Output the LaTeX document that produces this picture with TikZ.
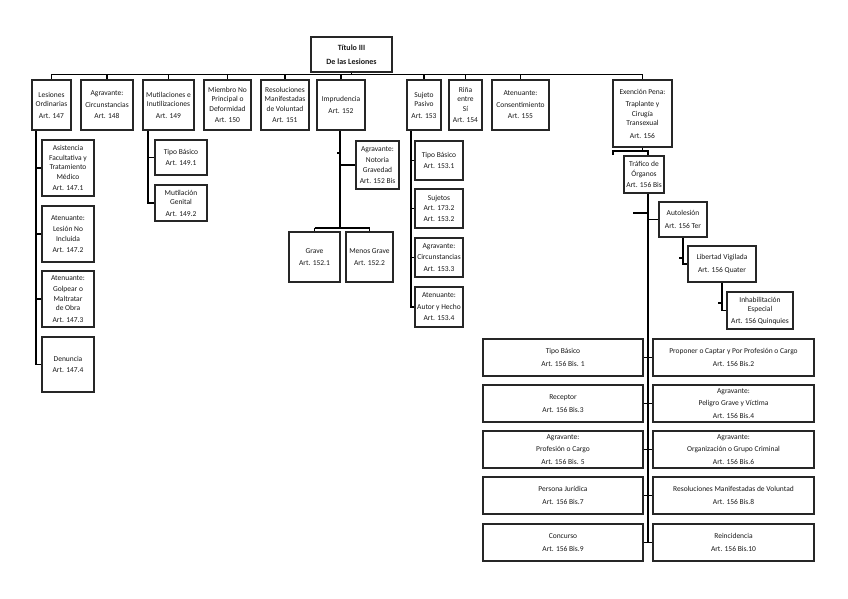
\documentclass[tikz,border=0pt]{standalone}
\usepackage{fontspec}
\setmainfont{Carlito}
\begin{document}
\begin{tikzpicture}[x=1pt,y=-1pt,
  box/.style={draw=black!85, line width=1.3pt, fill=white, inner sep=0pt, align=center,
    font=\fontsize{7.5}{9.5}\selectfont, text=black!90},
  wh/.style 2 args={minimum width=#1pt, minimum height=#2pt},
  wide/.style={font=\fontsize{7.5}{12.5}\selectfont},
  conn/.style={draw=black, line width=1.3pt}]
\useasboundingbox[fill=white] (0,0) rectangle (848,599);
\coordinate (bar) at (0,74.5);
\coordinate (trunk) at (648,0);
% title
\node[box,wh={81}{35},font=\fontsize{8}{14}\selectfont\bfseries] (t) at (351.5,54.5) {Título III\\De las Lesiones};
% top row
\node[box,wh={39}{50}] (L147) at (51.5,105) {Lesiones\\Ordinarias\\[2pt]Art. 147};
\node[box,wh={52}{50}] (A148) at (107,105) {Agravante:\\[2pt]Circunstancias\\[2pt]Art. 148};
\node[box,wh={51}{50}] (M149) at (168.5,105) {Mutilaciones e\\Inutilizaciones\\[2pt]Art. 149};
\node[box,wh={47}{50}] (M150) at (227.5,105) {Miembro No\\Principal o\\Deformidad\\[2pt]Art. 150};
\node[box,wh={48}{50}] (R151) at (285,105) {Resoluciones\\Manifestadas\\de Voluntad\\[2pt]Art. 151};
\node[box,wh={48}{50}] (I152) at (341,105) {Imprudencia\\[2pt]Art. 152};
\node[box,wh={34}{50}] (S153) at (424,105) {Sujeto\\Pasivo\\[2pt]Art. 153};
\node[box,wh={33}{50}] (R154) at (465.5,105) {Riña\\entre\\Sí\\[2pt]Art. 154};
\node[box,wh={57}{50}] (A155) at (520.5,105) {Atenuante:\\[2pt]Consentimiento\\[2pt]Art. 155};
\node[box,wh={59}{67}] (E156) at (642.5,113.5) {Exención Pena:\\[3pt]Traplante y\\Cirugía\\Transexual\\[3pt]Art. 156};
% Lesiones children
\node[box,wh={52}{56}] (c1) at (68,168) {Asistencia\\Facultativa y\\Tratamiento\\Médico\\[2pt]Art. 147.1};
\node[box,wh={52}{56}] (c2) at (68,234) {Atenuante:\\[2pt]Lesión No\\Incluida\\[2pt]Art. 147.2};
\node[box,wh={52}{56}] (c3) at (68,299) {Atenuante:\\[2pt]Golpear o\\Maltratar\\de Obra\\[2pt]Art. 147.3};
\node[box,wh={52}{55}] (c4) at (68,364.5) {Denuncia\\[2pt]Art. 147.4};
% Mutilaciones children
\node[box,wh={52}{35}] (m1) at (181,157.5) {Tipo Básico\\[2pt]Art. 149.1};
\node[box,wh={52}{36}] (m2) at (181,203) {Mutilación\\Genital\\[2pt]Art. 149.2};
% Imprudencia children
\node[box,wh={43}{48}] (ia) at (377.5,165) {Agravante:\\[2pt]Notoria\\Gravedad\\[2pt]Art. 152 Bis};
\node[box,wh={51}{50}] (ig) at (314.5,257) {Grave\\[2pt]Art. 152.1};
\node[box,wh={47}{50}] (im) at (369.5,257) {Menos Grave\\[2pt]Art. 152.2};
% Sujeto children
\node[box,wh={48}{39}] (s1) at (439,160.5) {Tipo Básico\\[2pt]Art. 153.1};
\node[box,wh={48}{39}] (s2) at (439,208.5) {Sujetos\\Art. 173.2\\[2pt]Art. 153.2};
\node[box,wh={48}{39}] (s3) at (439,257.5) {Agravante:\\[2pt]Circunstancias\\[2pt]Art. 153.3};
\node[box,wh={48}{40}] (s4) at (439,307) {Atenuante:\\[2pt]Autor y Hecho\\[2pt]Art. 153.4};
% Trafico
\node[box,wh={40}{37}] (T156) at (644,174.5) {Tráfico de\\Órganos\\[2pt]Art. 156 Bis};
\node[box,wh={48}{35}] (AU) at (683,219.5) {Autolesión\\[3pt]Art. 156 Ter};
\node[box,wh={68}{36}] (LV) at (722,264) {Libertad Vigilada\\[3pt]Art. 156 Quater};
\node[box,wh={66}{37}] (IE) at (760,310.5) {Inhabilitación\\Especial\\[2pt]Art. 156 Quinquies};
% bottom grid
\node[box,wide,wh={160}{37}] (b1) at (563,357.5) {Tipo Básico\\Art. 156 Bis. 1};
\node[box,wide,wh={161}{37}] (b2) at (733.5,357.5) {Proponer o Captar y Por Profesión o Cargo\\Art. 156 Bis.2};
\node[box,wide,wh={160}{37}] (b3) at (563,403.5) {Receptor\\Art. 156 Bis.3};
\node[box,wide,wh={161}{37}] (b4) at (733.5,403.5) {Agravante:\\Peligro Grave y Víctima\\Art. 156 Bis.4};
\node[box,wide,wh={160}{37}] (b5) at (563,449.5) {Agravante:\\Profesión o Cargo\\Art. 156 Bis. 5};
\node[box,wide,wh={161}{37}] (b6) at (733.5,449.5) {Agravante:\\Organización o Grupo Criminal\\Art. 156 Bis.6};
\node[box,wide,wh={160}{37}] (b7) at (563,495.5) {Persona Jurídica\\Art. 156 Bis.7};
\node[box,wide,wh={161}{37}] (b8) at (733.5,495.5) {Resoluciones Manifestadas de Voluntad\\Art. 156 Bis.8};
\node[box,wide,wh={160}{37}] (b9) at (563,542.5) {Concurso\\Art. 156 Bis.9};
\node[box,wide,wh={161}{37}] (b10) at (733.5,542.5) {Reincidencia\\Art. 156 Bis.10};
% connectors: top level
\draw[conn] (t.south) -- (t.south |- bar);
\draw[conn] (L147.north |- bar) -- (E156.north |- bar);
\foreach \n in {L147,A148,M149,M150,R151,I152,S153,R154,A155,E156}
  \draw[conn] (\n.north |- bar) -- (\n.north);
% Lesiones
\draw[conn] (L147.south -| 36,0) -- (c4.west -| 36,0) -- (c4.west);
\foreach \n in {c1,c2,c3}
  \draw[conn] (\n.west -| 36,0) -- (\n.west);
% Mutilaciones
\draw[conn] (M149.south -| 148,0) -- (m2.west -| 148,0) -- (m2.west);
\draw[conn] (m1.west -| 148,0) -- (m1.west);
% Imprudencia
\draw[conn] (I152.south -| 340,0) -- (340,228);
\draw[conn] (ia.west -| 340,0) -- (ia.west);
\draw[conn] (337,153) -- (340,153);
\draw[conn] (ig.north |- 0,228) -- (im.north |- 0,228);
\draw[conn] (ig.north |- 0,228) -- (ig.north);
\draw[conn] (im.north |- 0,228) -- (im.north);
% Sujeto
\draw[conn] (S153.south -| 411,0) -- (s4.west -| 411,0) -- (s4.west);
\foreach \n in {s1,s2,s3}
  \draw[conn] (\n.west -| 411,0) -- (\n.west);
% Exencion -> Trafico
\draw[conn] (E156.south) -- (E156.south |- 0,151);
\draw[conn] (613,155) -- (613,151) -- (trunk |- 0,151) -- (T156.north -| trunk);
% trunk
\draw[conn] (T156.south -| trunk) -- (b9.east -| trunk);
\draw[conn] (633,213) -- (trunk |- 0,213);
\draw[conn] (AU.west -| trunk) -- (AU.west);
\draw[conn] (AU.south) -- (AU.south |- LV.west) -- (LV.west);
\draw[conn] (679,258) -- (AU.south |- 0,258);
\draw[conn] (LV.south) -- (LV.south |- IE.west) -- (IE.west);
\draw[conn] (718,303) -- (LV.south |- 0,303);
\draw[conn] (b1.east) -- (b2.west);
\draw[conn] (b3.east) -- (b4.west);
\draw[conn] (b5.east) -- (b6.west);
\draw[conn] (b7.east) -- (b8.west);
\draw[conn] (b9.east) -- (b10.west);
\end{tikzpicture}
\end{document}
